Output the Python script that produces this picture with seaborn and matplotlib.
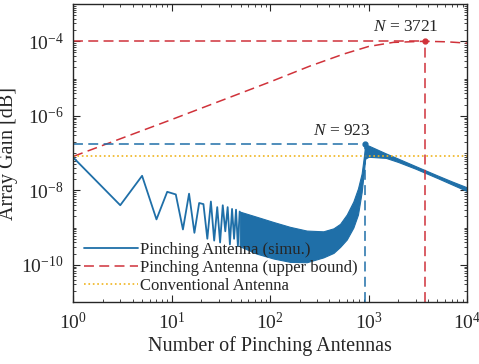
import numpy as np
import pandas as pd
import matplotlib
matplotlib.use("Agg")
import matplotlib.pyplot as plt
import matplotlib.ticker as mticker
import seaborn as sns

# ---------------- data (log10 of gain) ----------------
simu_n = [1, 3, 5, 7, 9, 11, 13, 15, 17, 19, 21, 23, 25, 27, 29, 31, 33, 35, 37, 39, 41, 43, 45, 47, 49]
simu_log = [-7.12, -8.40, -7.61, -8.78, -8.04, -8.11, -9.05, -8.09, -9.14, -8.34, -8.37, -9.30, -8.30,
            -9.35, -8.45, -9.40, -8.40, -9.10, -8.45, -9.45, -8.50, -9.30, -8.52, -9.50, -8.57]

# dense oscillating part drawn as an envelope band
band_n = [49, 73, 108, 159, 235, 347, 440, 513, 600, 700, 780, 850, 900, 923]
band_hi = [-8.57, -8.71, -8.85, -8.98, -9.08, -9.10, -9.02, -8.90, -8.65, -8.30, -7.95, -7.55, -7.05, -6.77]
band_lo = [-9.50, -9.70, -9.83, -9.92, -9.93, -9.80, -9.68, -9.52, -9.32, -9.00, -8.65, -8.05, -7.45, -7.15]

tail_n = [923, 1000, 1500, 2000, 3000, 5000, 7000, 10000]
tail_hi = [-6.77, -6.80, -7.01, -7.15, -7.35, -7.60, -7.76, -7.92]
tail_lo = [-7.15, -7.10, -7.13, -7.24, -7.42, -7.67, -7.84, -8.02]

ub_n = [1, 10, 100, 251, 562, 1000, 1778, 3721, 6310, 10000]
ub_log = [-7.09, -6.10, -5.09, -4.67, -4.34, -4.14, -4.03, -4.00, -4.015, -4.05]

conv_n = [1, 10000]
conv_log = [-7.087, -7.087]

peak_simu_n, peak_simu_log = 923, -6.766
peak_ub_n, peak_ub_log = 3721, -4.0

blue = "#1f6fa8"
red = "#d0323a"
yellow = "#f0b41e"

# ---------------- style ----------------
sns.set_style("ticks")
plt.rcParams["font.family"] = ["Liberation Serif", "DejaVu Serif"]
plt.rcParams["mathtext.fontset"] = "custom"
plt.rcParams["mathtext.rm"] = "Liberation Serif"
plt.rcParams["mathtext.it"] = "Liberation Serif:italic"
plt.rcParams["axes.unicode_minus"] = False

fig = plt.figure(figsize=(4.79, 3.64), dpi=100)
ax = fig.add_axes([0.153, 0.170, 0.822, 0.819])

df_simu = pd.DataFrame({"N": simu_n, "G": 10 ** np.array(simu_log)})
df_ub = pd.DataFrame({"N": ub_n, "G": 10 ** np.array(ub_log)})
df_conv = pd.DataFrame({"N": conv_n, "G": 10 ** np.array(conv_log)})

sns.lineplot(data=df_simu, x="N", y="G", ax=ax, color=blue, lw=1.3,
             label="Pinching Antenna (simu.)", sort=False)
ax.fill_between(band_n, 10 ** np.array(band_hi), 10 ** np.array(band_lo),
                color=blue, lw=0.8, edgecolor=blue)
ax.fill_between(tail_n, 10 ** np.array(tail_hi), 10 ** np.array(tail_lo),
                color=blue, lw=0.8, edgecolor=blue)
sns.lineplot(data=df_ub, x="N", y="G", ax=ax, color=red, lw=1.1,
             label="Pinching Antenna (upper bound)", dashes=False)
ax.lines[-1].set_dashes((6.5, 3.5))
sns.lineplot(data=df_conv, x="N", y="G", ax=ax, color=yellow, lw=1.2,
             label="Conventional Antenna")
ax.lines[-1].set_linestyle(":")

# guide lines and peak markers
ps, pu = 10 ** peak_simu_log, 10 ** peak_ub_log
ax.plot([1, peak_simu_n], [ps, ps], color=blue, lw=1.1, dashes=(6.5, 3.5))
ax.plot([peak_simu_n, peak_simu_n], [1e-11, ps], color=blue, lw=1.1, dashes=(6.5, 3.5))
ax.plot([1, peak_ub_n], [pu, pu], color=red, lw=1.1, dashes=(6.5, 3.5))
ax.plot([peak_ub_n, peak_ub_n], [1e-11, pu], color=red, lw=1.1, dashes=(6.5, 3.5))
ax.plot([peak_simu_n], [ps], "o", color=blue, ms=3.5)
ax.plot([peak_ub_n], [pu], "o", color=red, ms=3.5)

ax.annotate(r"$N$ = 923", (peak_simu_n, ps), xytext=(-23, 13), textcoords="offset pixels",
            ha="center", va="center", fontsize=12.5)
ax.annotate(r"$N$ = 3721", (peak_ub_n, pu), xytext=(-19, 14), textcoords="offset pixels",
            ha="center", va="center", fontsize=12.5)

# ---------------- axes ----------------
ax.set_xscale("log")
ax.set_yscale("log")
ax.set_xlim(1, 1e4)
ax.set_ylim(1e-11, 1e-3)
ax.xaxis.set_major_locator(mticker.LogLocator(base=10, numticks=10))
ax.xaxis.set_minor_locator(mticker.LogLocator(base=10, subs=np.arange(2, 10), numticks=20))
ax.yaxis.set_major_locator(mticker.FixedLocator([1e-10, 1e-8, 1e-6, 1e-4]))
ax.yaxis.set_minor_locator(mticker.LogLocator(base=10, subs=np.arange(1, 10), numticks=30))
ax.yaxis.set_minor_formatter(mticker.NullFormatter())
ax.tick_params(which="both", direction="in", top=True, right=True, labelsize=14, colors="#262626")
ax.tick_params(which="major", length=5, width=0.8, pad=7)
ax.tick_params(which="minor", length=2.5, width=0.6)
for s in ax.spines.values():
    s.set_visible(True)
    s.set_linewidth(1.0)
    s.set_color("#262626")

ax.set_xlabel("Number of Pinching Antennas", fontsize=14.5, labelpad=2)
ax.set_ylabel("Array Gain [dB]", fontsize=14.5, labelpad=2)

ax.legend(loc="lower left", bbox_to_anchor=(0.02, 0.015), frameon=False, fontsize=12,
          handlelength=3.2, handletextpad=0.15, labelspacing=0.12, borderaxespad=0, borderpad=0.2)

fig.savefig("out.png", dpi=100)
